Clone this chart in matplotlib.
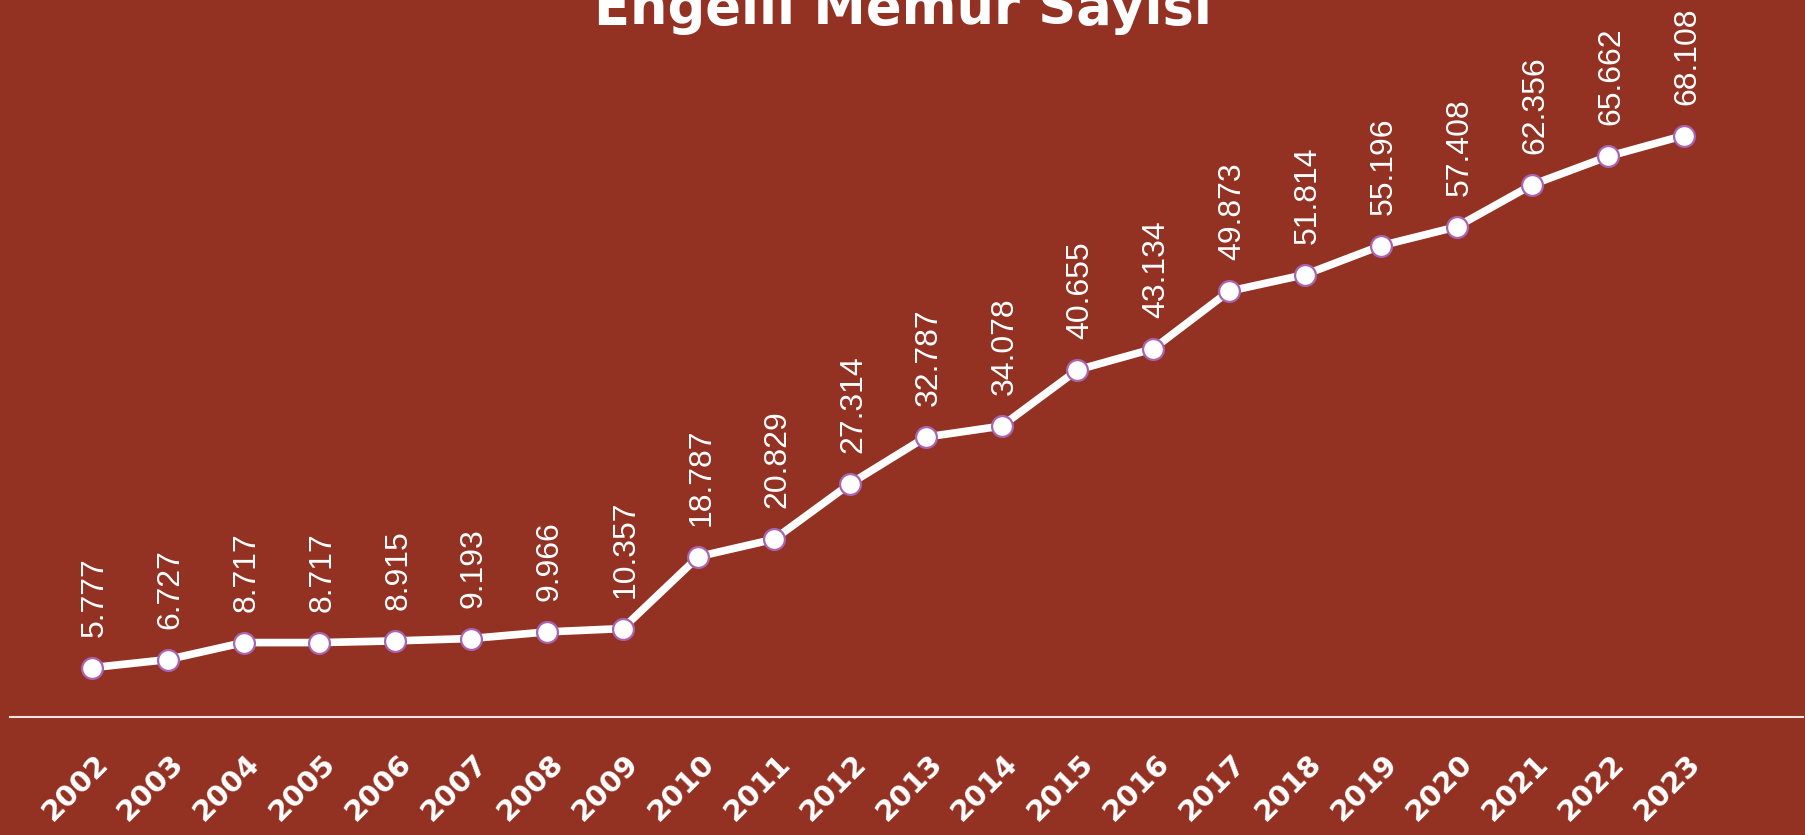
import matplotlib
matplotlib.use("Agg")
import matplotlib.pyplot as plt
from matplotlib.transforms import ScaledTranslation

# data
years = [str(y) for y in range(2002, 2024)]
memur = [5777, 6727, 8717, 8717, 8915, 9193, 9966, 10357, 18787, 20829, 27314,
         32787, 34078, 40655, 43134, 49873, 51814, 55196, 57408, 62356, 65662, 68108]

BG = "#933123"
EDGE = "#a864b0"

fig = plt.figure(figsize=(18.06, 8.35), dpi=100, facecolor=BG)
ax = fig.add_axes([10 / 1806, 118 / 835, (1803 - 10) / 1806, (717 - 34) / 835])
ax.set_facecolor(BG)

x = list(range(len(years)))
ax.plot(x, memur, color="white", lw=5.5, marker="o", ms=15,
        mfc="white", mec=EDGE, mew=1.6, zorder=3, solid_capstyle="round")

for xi, v in zip(x, memur):
    lbl = f"{v:,}".replace(",", ".")
    ax.annotate(lbl, (xi, v), xytext=(3, 31), textcoords="offset pixels",
                rotation=90, ha="center", va="bottom", color="white",
                fontsize=23, family="Liberation Sans")

ax.set_xlim(-1.08, 22.57)
ax.set_ylim(0, 80000)

ax.set_xticks(x)
ax.set_xticklabels(years, rotation=45, ha="right", fontsize=21,
                   fontweight="bold", color="white", family="DejaVu Sans")
ax.tick_params(axis="x", length=0, pad=23)
off = ScaledTranslation(22 / 100, 0, fig.dpi_scale_trans)
for t in ax.get_xticklabels():
    t.set_transform(t.get_transform() + off)
ax.set_yticks([])

for s in ["top", "right", "left"]:
    ax.spines[s].set_visible(False)
ax.spines["bottom"].set_color("#f0e4e0")
ax.spines["bottom"].set_linewidth(1.5)

fig.text(0.5, 1 - 24 / 835, "Engelli Memur Sayısı", ha="center", va="baseline",
         color="white", fontsize=38, fontweight="bold", family="DejaVu Sans")

fig.savefig("out.png", dpi=100, facecolor=BG)
